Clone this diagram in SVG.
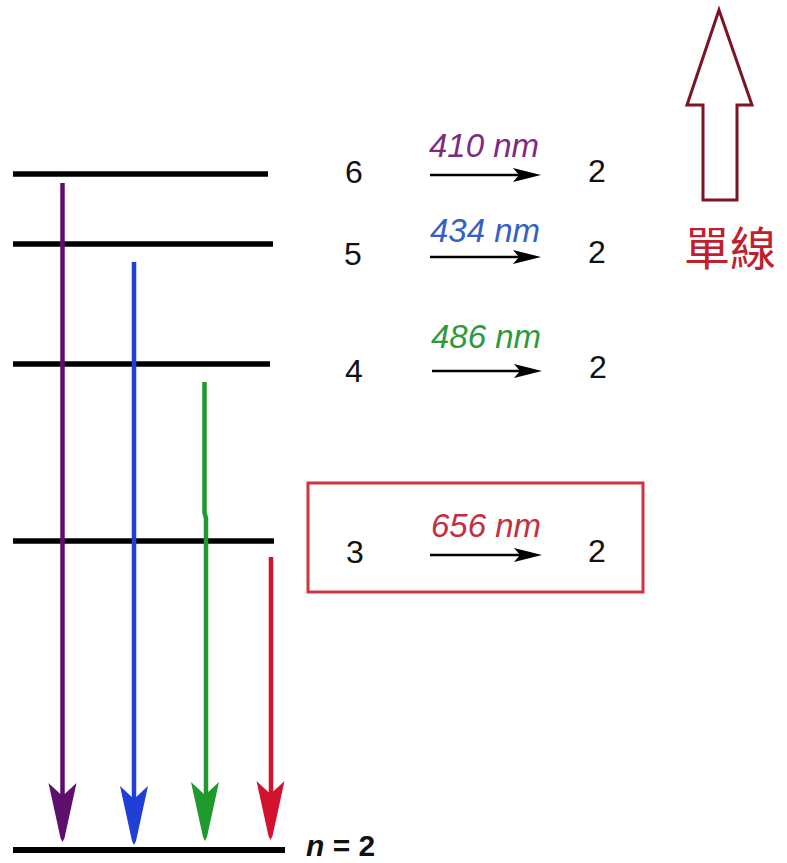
<svg xmlns="http://www.w3.org/2000/svg" xmlns:xlink="http://www.w3.org/1999/xlink" width="787" height="863" viewBox="0 0 787 863">
<defs>
<style>
.lvl{stroke:#000;stroke-width:5.5;fill:none}
.num{font-family:"Liberation Sans",Arial,sans-serif;font-size:32px;fill:#111}
.wl{font-family:"Liberation Sans",Arial,sans-serif;font-size:33px;font-style:italic}
.shaft{stroke-width:4.5;fill:none}
.sm{stroke:#000;stroke-width:2.5;fill:none}
</style>
<path id="head" d="M-14,0 L0,13 L14,0 L2,55 L0,59 L-2,55 Z"/>
<path id="sah" d="M0,0 L-28,-7 L-22,0 L-28,7 Z" fill="#000"/>
</defs>
<rect width="787" height="863" fill="#fff"/>

<g id="levels">
<line class="lvl" x1="13" y1="174" x2="268" y2="174"/>
<line class="lvl" x1="13" y1="244" x2="273" y2="244"/>
<line class="lvl" x1="13" y1="364" x2="270" y2="364"/>
<line class="lvl" x1="13" y1="541" x2="274" y2="541"/>
<line class="lvl" x1="13" y1="850" x2="285" y2="850" style="stroke-width:6"/>
</g>

<g id="connectors">
<line class="shaft" stroke="#5e0f6c" x1="62.5" y1="183" x2="62.5" y2="800"/>
<use xlink:href="#head" fill="#5e0f6c" transform="translate(62.5,783)"/>
<line class="shaft" stroke="#1f3fd6" x1="134" y1="262" x2="134" y2="800"/>
<use xlink:href="#head" fill="#1f3fd6" transform="translate(134,786)"/>
<path class="shaft" stroke="#1f9a2e" d="M204.5,382 L204.5,513 L206,518 L206,800"/>
<use xlink:href="#head" fill="#1f9a2e" transform="translate(205,782)"/>
<line class="shaft" stroke="#d2122e" x1="271" y1="557" x2="271" y2="800"/>
<use xlink:href="#head" fill="#d2122e" transform="translate(270.5,781)"/>

<line class="sm" x1="430" y1="175" x2="520" y2="175"/>
<use xlink:href="#sah" transform="translate(541,175)"/>
<line class="sm" x1="430" y1="257" x2="520" y2="257"/>
<use xlink:href="#sah" transform="translate(541,257)"/>
<line class="sm" x1="432" y1="371" x2="520" y2="371"/>
<use xlink:href="#sah" transform="translate(542,371)"/>
<line class="sm" x1="430" y1="555" x2="520" y2="555"/>
<use xlink:href="#sah" transform="translate(542,555)"/>
</g>

<g id="row6">
<text class="num" x="354" y="183" text-anchor="middle">6</text>
<text class="wl" x="484" y="157" text-anchor="middle" fill="#7d2a7f">410 nm</text>
<text class="num" x="597" y="182" text-anchor="middle">2</text>
</g>
<g id="row5">
<text class="num" x="353" y="265" text-anchor="middle">5</text>
<text class="wl" x="485" y="242" text-anchor="middle" fill="#3461c4">434 nm</text>
<text class="num" x="597" y="263" text-anchor="middle">2</text>
</g>
<g id="row4">
<text class="num" x="354" y="382" text-anchor="middle">4</text>
<text class="wl" x="486" y="348" text-anchor="middle" fill="#2c9a3c">486 nm</text>
<text class="num" x="598" y="378" text-anchor="middle">2</text>
</g>
<g id="row3">
<rect x="308" y="483" width="335" height="109" fill="none" stroke="#d0343e" stroke-width="3"/>
<text class="num" x="355" y="563" text-anchor="middle">3</text>
<text class="wl" x="486" y="537" text-anchor="middle" fill="#c2303f">656 nm</text>
<text class="num" x="597" y="562" text-anchor="middle">2</text>
</g>

<g id="n2">
<text x="306" y="856" font-family="'Liberation Sans',Arial,sans-serif" font-size="30" font-weight="bold" fill="#111"><tspan font-style="italic">n</tspan> = 2</text>
</g>

<g id="single-line">
<path d="M719,10 L752,105 L737,105 L737,200 L703,200 L703,105 L687,105 Z" fill="#fff" stroke="#7c1424" stroke-width="3" stroke-linejoin="miter"/>
<text x="730" y="265" text-anchor="middle" font-family="'Noto Sans CJK TC','Noto Sans CJK SC',sans-serif" font-size="46" fill="#c0202e">單線</text>
</g>
</svg>
